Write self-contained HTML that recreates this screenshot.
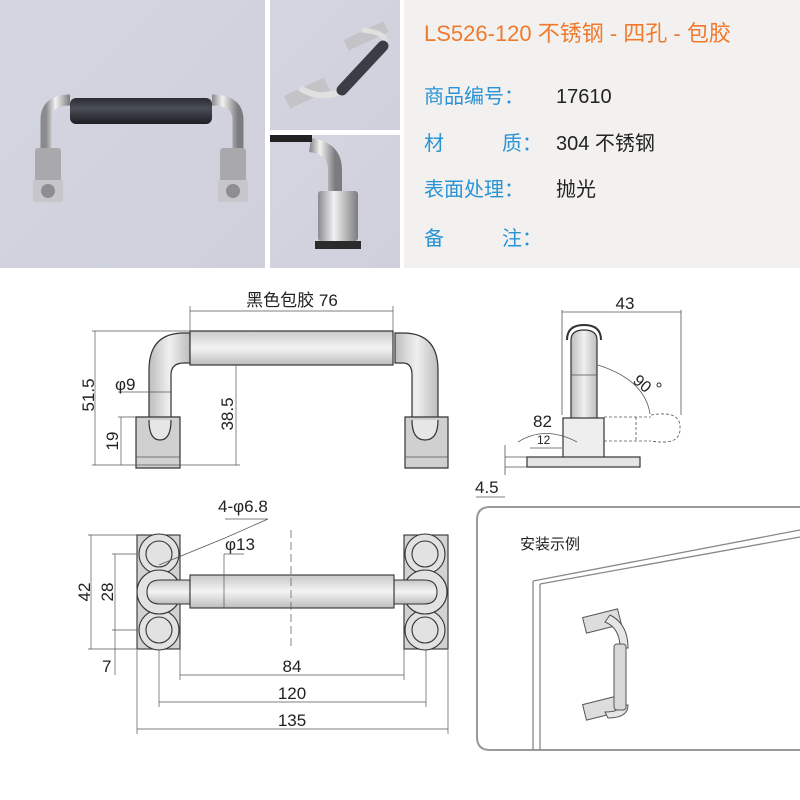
<!DOCTYPE html>
<html><head><meta charset="utf-8"><style>
html,body{margin:0;padding:0;background:#fff}
svg{display:block}
text{font-family:"Liberation Sans","Noto Sans CJK SC",sans-serif}
</style></head><body>
<svg width="800" height="800" viewBox="0 0 800 800" xmlns="http://www.w3.org/2000/svg">
<defs>
<linearGradient id="bg1" x1="0" y1="0" x2="1" y2="1"><stop offset="0" stop-color="#d4d5e0"/><stop offset="1" stop-color="#cfd0dc"/></linearGradient>
<linearGradient id="steel" x1="0" y1="0" x2="1" y2="0"><stop offset="0" stop-color="#8a8a8e"/><stop offset=".4" stop-color="#f2f2f2"/><stop offset="1" stop-color="#7c7c80"/></linearGradient>
<linearGradient id="rub" x1="0" y1="0" x2="0" y2="1"><stop offset="0" stop-color="#2a2d33"/><stop offset=".4" stop-color="#4a4e56"/><stop offset="1" stop-color="#1c1e22"/></linearGradient>
<linearGradient id="dg" x1="0" y1="0" x2="0" y2="1"><stop offset="0" stop-color="#c9c9c9"/><stop offset=".5" stop-color="#f4f4f4"/><stop offset="1" stop-color="#bdbdbd"/></linearGradient>
<linearGradient id="dgv" x1="0" y1="0" x2="1" y2="0"><stop offset="0" stop-color="#bdbdbd"/><stop offset=".5" stop-color="#f0f0f0"/><stop offset="1" stop-color="#bdbdbd"/></linearGradient>
</defs>
<rect width="800" height="800" fill="#fff"/>
<!-- photos -->
<rect x="0" y="0" width="265" height="268" fill="url(#bg1)"/>
<rect x="270" y="0" width="130" height="130" fill="url(#bg1)"/>
<rect x="270" y="135" width="130" height="133" fill="url(#bg1)"/>
<!-- photo1 handle -->
<path d="M46 160 V120 Q46 100 70 100" fill="none" stroke="url(#steel)" stroke-width="11"/>
<path d="M238 160 V120 Q238 100 212 100" fill="none" stroke="url(#steel)" stroke-width="11"/>
<rect x="70" y="98" width="142" height="26" rx="6" fill="url(#rub)"/>
<rect x="35" y="148" width="26" height="40" rx="3" fill="#a9a9ad"/>
<rect x="220" y="148" width="26" height="40" rx="3" fill="#a9a9ad"/>
<rect x="33" y="180" width="30" height="22" fill="#c7c7cb"/><circle cx="48" cy="191" r="7" fill="#8d8d92"/>
<rect x="218" y="180" width="30" height="22" fill="#c7c7cb"/><circle cx="233" cy="191" r="7" fill="#8d8d92"/>
<!-- photo2 -->
<rect x="285" y="86" width="44" height="14" fill="#c4c4c8" transform="rotate(-25 307 93)"/>
<rect x="344" y="30" width="44" height="12" fill="#c4c4c8" transform="rotate(-25 366 36)"/>
<path d="M300 88 Q318 100 340 92" fill="none" stroke="#e0e0e0" stroke-width="6"/>
<path d="M384 45 Q390 33 362 30" fill="none" stroke="#e0e0e0" stroke-width="5"/>
<line x1="342" y1="90" x2="383" y2="46" stroke="#3a3d44" stroke-width="11" stroke-linecap="round"/>
<!-- photo3 -->
<path d="M335 205 V170 Q335 148 310 145" fill="none" stroke="url(#steel)" stroke-width="14"/>
<rect x="270" y="135" width="42" height="7" fill="#222"/>
<rect x="318" y="191" width="40" height="50" rx="3" fill="url(#steel)"/>
<rect x="315" y="241" width="46" height="8" fill="#2b2b2b"/>
<!-- info -->
<rect x="404" y="0" width="396" height="268" fill="#f2f1ef"/>
<text x="424" y="41" font-size="22" fill="#ef7a2e">LS526-120 不锈钢 - 四孔 - 包胶</text>
<g font-size="20" fill="#2a93d5">
<text x="424" y="103">商品编号：</text>
<text x="424" y="150">材</text><text x="502" y="150">质：</text>
<text x="424" y="196">表面处理：</text>
<text x="424" y="245">备</text><text x="502" y="245">注：</text>
</g>
<g font-size="20" fill="#222">
<text x="556" y="103">17610</text><text x="556" y="150">304 不锈钢</text><text x="556" y="196">抛光</text>
</g>

<!-- front view -->
<g stroke="#333" stroke-width="1.2">
<path d="M149 420 V370 Q149 333 184 333 H190 V363 H184 Q171 363 171 375 V420 Z" fill="url(#dgv)"/>
<path d="M438 420 V370 Q438 333 403 333 H395 V363 H403 Q412 363 412 375 V420 Z" fill="url(#dgv)"/>
<rect x="190" y="331" width="203" height="34" fill="url(#dg)"/>
<path d="M136 417 H180 V468 H136 Z" fill="#d0d0d0"/>
<path d="M405 417 H448 V468 H405 Z" fill="#d0d0d0"/>
<path d="M149 420 Q149 440 160 440 Q171 440 171 420" fill="#e6e6e6"/>
<path d="M412 420 Q412 440 425 440 Q438 440 438 420" fill="#e6e6e6"/>
</g>
<g stroke="#555" stroke-width=".7" fill="none">
<line x1="136" y1="457" x2="180" y2="457"/><line x1="405" y1="457" x2="448" y2="457"/>
<line x1="190" y1="311" x2="393" y2="311"/><line x1="190" y1="306" x2="190" y2="331"/><line x1="393" y1="306" x2="393" y2="331"/>
<line x1="95" y1="331" x2="95" y2="465"/><line x1="92" y1="331" x2="190" y2="331"/><line x1="92" y1="465" x2="180" y2="465"/>
<line x1="121" y1="417" x2="121" y2="465"/><line x1="118" y1="417" x2="136" y2="417"/>
<line x1="236" y1="365" x2="236" y2="465"/><line x1="180" y1="465" x2="240" y2="465"/>
<line x1="118" y1="392" x2="171" y2="392"/>
</g>
<g font-size="17" fill="#222">
<text x="292" y="306" text-anchor="middle">黑色包胶 76</text>
<text x="115" y="390">φ9</text>
<text transform="translate(94 395) rotate(-90)" text-anchor="middle">51.5</text>
<text transform="translate(118 441) rotate(-90)" text-anchor="middle">19</text>
<text transform="translate(233 414) rotate(-90)" text-anchor="middle">38.5</text>
</g>

<!-- side view -->
<g stroke="#333" stroke-width="1.2">
<path d="M571 418 V340 Q571 330 584 330 Q597 330 597 340 V418" fill="url(#dgv)"/>
<path d="M567 340 Q567 325 584 325 Q601 325 601 340" fill="none" stroke-width="2"/>
<rect x="563" y="418" width="41" height="40" fill="#eee"/>
<rect x="527" y="457" width="113" height="10" fill="#e4e4e4"/>
</g>
<g stroke="#555" stroke-width=".8" fill="none">
<line x1="571" y1="375" x2="597" y2="375"/>
<path d="M604 417 H651 M604 441 H651 M636 417 V441" stroke-dasharray="3 2"/>
<path d="M651 415 Q681 410 680 428 Q681 446 651 441" stroke-dasharray="3 2"/>
<line x1="562" y1="312" x2="681" y2="312"/><line x1="562" y1="310" x2="562" y2="415"/><line x1="681" y1="310" x2="681" y2="415"/>
<path d="M598 365 Q645 380 650 414"/>
<path d="M518 442 Q545 425 577 442"/>
<line x1="530" y1="448" x2="562" y2="448"/>
<line x1="505" y1="445" x2="505" y2="475"/><line x1="505" y1="457" x2="527" y2="457"/><line x1="505" y1="467" x2="527" y2="467"/>
<line x1="476" y1="497" x2="505" y2="497"/>
</g>
<g font-size="17" fill="#222">
<text x="625" y="309" text-anchor="middle">43</text>
<text transform="translate(632 382) rotate(40)" font-size="16">90</text>
<circle cx="659" cy="385" r="2" fill="none" stroke="#333"/>
<text x="533" y="427">82</text>
<text x="537" y="444" font-size="12">12</text>
<text x="475" y="493">4.5</text>
</g>

<!-- top view -->
<g stroke="#333" stroke-width="1.1">
<rect x="137" y="535" width="43" height="114" fill="#d2d2d2"/>
<rect x="404" y="535" width="44" height="114" fill="#d2d2d2"/>
<g fill="#e2e2e2">
<circle cx="159" cy="554" r="20"/><circle cx="159" cy="554" r="13"/>
<circle cx="159" cy="630" r="20"/><circle cx="159" cy="630" r="13"/>
<circle cx="425" cy="554" r="20"/><circle cx="425" cy="554" r="13"/>
<circle cx="425" cy="630" r="20"/><circle cx="425" cy="630" r="13"/>
<circle cx="159" cy="592" r="22"/><circle cx="425" cy="592" r="22"/>
</g>
<path d="M190 580 H160 Q147 580 147 592 Q147 604 160 604 H190 Z" fill="url(#dg)"/>
<path d="M394 580 H424 Q437 580 437 592 Q437 604 424 604 H394 Z" fill="url(#dg)"/>
<rect x="190" y="575" width="204" height="33" fill="url(#dg)"/>
</g>
<g stroke="#555" stroke-width=".7" fill="none">
<line x1="291" y1="530" x2="291" y2="650" stroke-dasharray="8 4"/>
<line x1="91" y1="535" x2="91" y2="649"/><line x1="88" y1="535" x2="137" y2="535"/><line x1="88" y1="649" x2="137" y2="649"/>
<line x1="115" y1="554" x2="115" y2="675"/><line x1="112" y1="554" x2="137" y2="554"/><line x1="112" y1="630" x2="137" y2="630"/>
<line x1="180" y1="649" x2="180" y2="680"/><line x1="404" y1="649" x2="404" y2="680"/><line x1="180" y1="675" x2="404" y2="675"/>
<line x1="159" y1="650" x2="159" y2="707"/><line x1="426" y1="650" x2="426" y2="707"/><line x1="159" y1="702" x2="426" y2="702"/>
<line x1="137" y1="650" x2="137" y2="734"/><line x1="448" y1="650" x2="448" y2="734"/><line x1="137" y1="729" x2="448" y2="729"/>
<line x1="225" y1="538" x2="159" y2="565"/><line x1="225" y1="538" x2="268" y2="519"/><line x1="225" y1="519" x2="268" y2="519"/>
<line x1="224" y1="554" x2="244" y2="554"/><line x1="224" y1="554" x2="224" y2="608"/>
</g>
<g font-size="17" fill="#222">
<text x="218" y="512">4-φ6.8</text>
<text x="225" y="550">φ13</text>
<text transform="translate(90 592) rotate(-90)" text-anchor="middle">42</text>
<text transform="translate(113 592) rotate(-90)" text-anchor="middle">28</text>
<text x="102" y="672">7</text>
<text x="292" y="672" text-anchor="middle">84</text>
<text x="292" y="699" text-anchor="middle">120</text>
<text x="292" y="726" text-anchor="middle">135</text>
</g>

<!-- install example -->
<path d="M800 507 H490 Q477 507 477 520 V737 Q477 750 490 750 H800" fill="none" stroke="#999" stroke-width="2"/>
<text x="520" y="549" font-size="15" fill="#222">安装示例</text>
<g stroke="#888" stroke-width="1.3" fill="none">
<path d="M533 581 L800 530"/><path d="M540 584 L800 537"/>
<path d="M533 581 V750"/><path d="M540 584 V750"/>
</g>
<g stroke="#555" stroke-width="1" fill="#ddd">
<rect x="584" y="613" width="36" height="16" transform="rotate(-14 602 621)"/>
<rect x="584" y="700" width="36" height="16" transform="rotate(-14 602 708)"/>
<path d="M605 622 Q620 628 620 648 H628 Q628 624 610 615 Z" fill="#e6e6e6"/>
<path d="M605 712 Q620 712 620 705 H628 Q628 718 608 718 Z" fill="#e6e6e6"/>
<rect x="614" y="644" width="12" height="66" rx="3" fill="#d8d8d8"/>
</g>
</svg>
</body></html>
